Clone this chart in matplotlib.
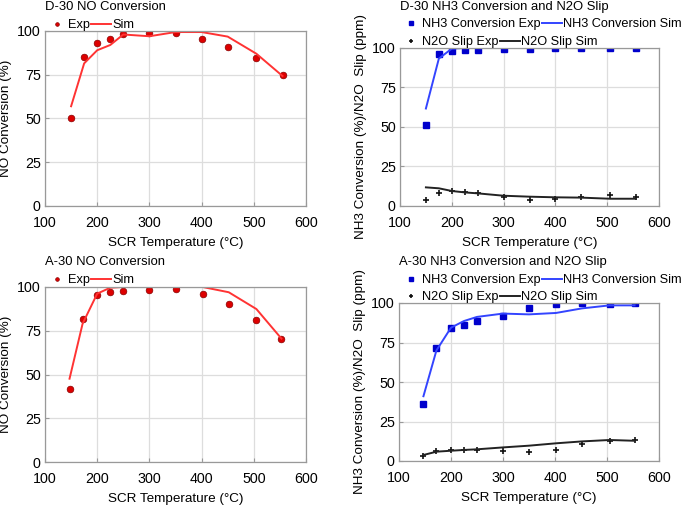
import matplotlib
matplotlib.use("Agg")
import matplotlib.pyplot as plt

plt.rcParams['font.family'] = ['Liberation Sans', 'DejaVu Sans']

# D-30
d_temp = [150, 175, 200, 225, 250, 300, 350, 400, 450, 505, 555]
d_no_exp = [50.5, 85.3, 93, 95.6, 98.3, 98.7, 98.7, 95.6, 91, 84.6, 75]
d_no_sim = [57, 81.5, 89, 92, 98, 97, 99.4, 99.4, 96.8, 87, 74.3]
d_nh3_exp = [51.2, 96, 98.1, 98.5, 98.5, 99.6, 99.6, 100, 100, 100, 100]
d_nh3_sim = [61.7, 93.3, 99.6, 100, 100, 100, 100, 100, 100, 100, 100]
d_n2o_exp = [3.8, 8.4, 9.7, 8.6, 8.4, 5.5, 3.8, 4.2, 5.5, 7, 5.7]
d_n2o_sim = [11.8, 11.2, 9.5, 8.6, 8, 6.5, 5.9, 5.5, 5.3, 4.6, 4.6]

# A-30
a_temp = [147, 172, 200, 225, 250, 300, 350, 402, 452, 505, 553]
a_no_exp = [41.5, 81.9, 95.6, 97.3, 97.7, 98.5, 98.9, 96.2, 90.5, 81, 70.1]
a_no_sim = [47.6, 79, 96.2, 99.6, 100, 100, 100, 100, 97, 87.4, 70.5]
a_nh3_exp = [36, 71.8, 84, 85.9, 88.4, 91.6, 96.6, 99.2, 100, 99.6, 100]
a_nh3_sim = [41, 70, 84.4, 88.6, 91.2, 93.3, 92.8, 93.7, 96.6, 98.5, 98.5]
a_n2o_exp = [3.2, 6.5, 6.7, 6.7, 6.9, 6.5, 5.5, 6.7, 10.5, 12.6, 13]
a_n2o_sim = [3.8, 5.9, 6.5, 7.0, 7.4, 8.6, 9.7, 11.2, 12.4, 13.3, 12.8]

W, H = 685, 505
fig = plt.figure(figsize=(W / 100, H / 100), dpi=100)
FS = 9.4


def box(l, t, r, b):
    return [l / W, 1 - b / H, (r - l) / W, (b - t) / H]


def fpos(x, y):
    return (x / W, 1 - y / H)


def style(ax, ylabel, ylx):
    ax.set_xlim(100, 600)
    ax.set_ylim(0, 100)
    ax.set_xticks([100, 200, 300, 400, 500, 600])
    ax.set_yticks([0, 25, 50, 75, 100])
    ax.grid(True, color='#dddddd', linewidth=0.9)
    ax.set_axisbelow(True)
    for s in ax.spines.values():
        s.set_color('#999999')
        s.set_linewidth(0.9)
    ax.tick_params(direction='in', length=3, color='#999999', labelsize=10.3)
    ax.tick_params(axis='x', pad=7)
    ax.tick_params(axis='y', pad=3)
    ax.set_xlabel('SCR Temperature (°C)', fontsize=FS + 0.3, labelpad=5)
    ax.set_ylabel(ylabel, fontsize=FS + 0.3)
    ax.yaxis.set_label_coords(ylx, 0.5)


def row_legend(handles, labels, x, y):
    fig.legend(handles, labels, loc='center left', bbox_to_anchor=fpos(x, y),
               bbox_transform=fig.transFigure, ncol=2, frameon=False,
               fontsize=9.2, handlelength=1.55, handletextpad=0.1,
               columnspacing=0.1, borderpad=0, borderaxespad=0, markerscale=0.55)


def no_plot(rect, title, temp, exp, sim, ty, ly, ylx):
    ax = fig.add_axes(box(*rect))
    e, = ax.plot(temp, exp, 'o', color='#dd0000', mec='#880000', mew=0.5, ms=4.8)
    s, = ax.plot(temp, sim, '-', color='#ff3333', lw=1.4)
    style(ax, 'NO Conversion (%)', ylx)
    fig.text(*fpos(rect[0], ty), title, fontsize=FS, va='center')
    row_legend([e, s], ['Exp', 'Sim'], 47, ly)
    return ax


def nh3_plot(rect, title, temp, nh3e, nh3s, n2oe, n2os, ty, ly1, ly2, ylx):
    ax = fig.add_axes(box(*rect))
    a, = ax.plot(temp, nh3e, 's', color='#0000cc', ms=4.5)
    b, = ax.plot(temp, nh3s, '-', color='#3344ff', lw=1.4)
    c, = ax.plot(temp, n2oe, '+', color='#111111', ms=5, mew=1.2)
    d, = ax.plot(temp, n2os, '-', color='#222222', lw=1.4)
    style(ax, 'NH3 Conversion (%)/N2O  Slip (ppm)', ylx)
    fig.text(*fpos(rect[0], ty), title, fontsize=FS, va='center')
    row_legend([a, b], ['NH3 Conversion Exp', 'NH3 Conversion Sim'], 401, ly1)
    row_legend([c, d], ['N2O Slip Exp', 'N2O Slip Sim'], 401, ly2)
    return ax


no_plot((45, 31, 306, 206), 'D-30 NO Conversion', d_temp, d_no_exp, d_no_sim,
        7, 25, -0.126)
nh3_plot((400, 48, 659, 206), 'D-30 NH3 Conversion and N2O Slip',
         d_temp, d_nh3_exp, d_nh3_sim, d_n2o_exp, d_n2o_sim, 7, 24, 42, -0.127)
no_plot((45, 287, 306, 462), 'A-30 NO Conversion', a_temp, a_no_exp, a_no_sim,
        262, 280, -0.126)
nh3_plot((399, 303, 659, 461), 'A-30 NH3 Conversion and N2O Slip',
         a_temp, a_nh3_exp, a_nh3_sim, a_n2o_exp, a_n2o_sim, 262, 280, 297, -0.127)

fig.savefig('out.png', dpi=100)
